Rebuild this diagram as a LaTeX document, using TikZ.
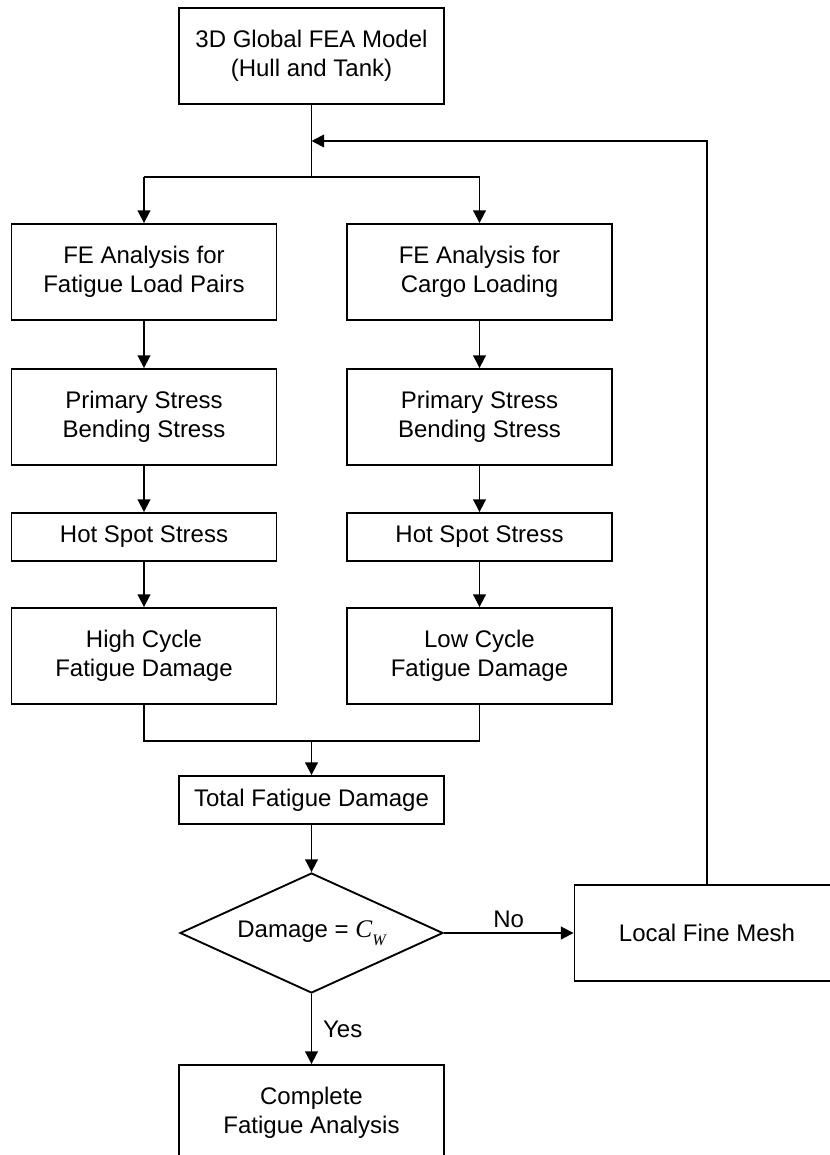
\documentclass[tikz,border=0pt]{standalone}
\usepackage{fontspec}
\setmainfont{Liberation Sans}
\newfontfamily\serifcw{Liberation Serif}
\usetikzlibrary{shapes.geometric,arrows.meta}
\begin{document}
\begin{tikzpicture}[x=0.75pt,y=-0.75pt,
  line width=1.4pt,
  every node/.style={font=\fontsize{18}{21.75}\selectfont},
  box/.style={draw,rectangle,align=center,minimum width=198.75pt,minimum height=72pt,inner sep=0pt},
  sbox/.style={box,minimum height=36pt},
  dec/.style={draw,diamond,align=center,minimum width=197.25pt,minimum height=90pt,inner sep=0pt,shape aspect=2.19},
  arr/.style={-{Triangle[length=9.5pt,width=9.5pt]}},
  lbl/.style={inner sep=3pt}]
\useasboundingbox (0,0) rectangle (829,1155);
\node[box] (top) at (311.5,56) {3D Global FEA Model\\(Hull and Tank)};
\node[box] (fe1) at (144,272) {FE Analysis for\\Fatigue Load Pairs};
\node[box] (fe2) at (479.5,272) {FE Analysis for\\Cargo Loading};
\node[box] (ps1) at (144,417) {Primary Stress\\Bending Stress};
\node[box] (ps2) at (479.5,417) {Primary Stress\\Bending Stress};
\node[sbox] (hs1) at (144,537) {Hot Spot Stress};
\node[sbox] (hs2) at (479.5,537) {Hot Spot Stress};
\node[box] (hc1) at (144,656) {High Cycle\\Fatigue Damage};
\node[box] (hc2) at (479.5,656) {Low Cycle\\Fatigue Damage};
\node[sbox] (tot) at (311.5,800) {Total Fatigue Damage};
\node[dec] (dia) at (311.5,933) {Damage = {\serifcw\itshape\fontsize{19}{19}\selectfont C}\raisebox{-0.35em}{\serifcw\itshape\fontsize{12}{12}\selectfont W}};
\node[box] (lfm) at (707,933) {Local Fine Mesh};
\node[box] (comp) at (311.5,1113) {Complete\\Fatigue Analysis};
\coordinate (j1) at (311.5,177);
\coordinate (jl) at (144,177);
\coordinate (jr) at (479.5,177);
\coordinate (rt) at (707,141);
\coordinate (rl) at (311.5,141);
\coordinate (m) at (311.5,741);
\draw (top) -- (j1);
\draw (jl) -- (jr);
\draw[arr] (jl) -- (fe1);
\draw[arr] (jr) -- (fe2);
\draw[arr] (fe1) -- (ps1);
\draw[arr] (fe2) -- (ps2);
\draw[arr] (ps1) -- (hs1);
\draw[arr] (ps2) -- (hs2);
\draw[arr] (hs1) -- (hc1);
\draw[arr] (hs2) -- (hc2);
\draw (hc1.south) |- (m) -| (hc2.south);
\draw[arr] (m) -- (tot);
\draw[arr] (tot) -- (dia);
\draw[arr] (dia.east) -- node[above,lbl]{No} (lfm.west);
\draw[arr] (dia.south) -- node[right,inner sep=8pt]{Yes} (comp.north);
\draw[arr] (lfm.north) -- (rt) -- (rl);
\end{tikzpicture}
\end{document}
